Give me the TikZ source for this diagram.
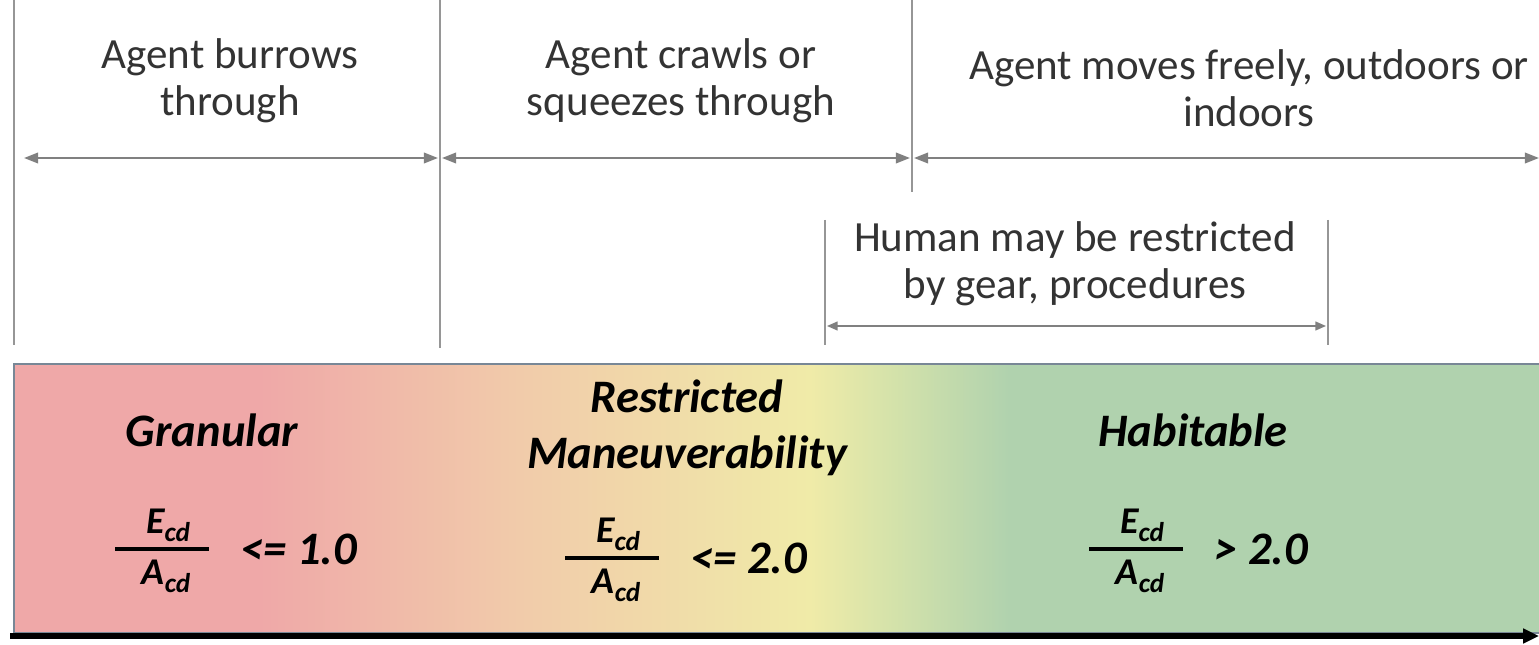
\documentclass[tikz,border=0pt]{standalone}
\usepackage{fontspec}
\setmainfont{Carlito}
\usetikzlibrary{arrows.meta,positioning}

\definecolor{granred}{RGB}{239,168,168}
\definecolor{peach}{RGB}{241,203,170}
\definecolor{paleyellow}{RGB}{240,235,168}
\definecolor{limegreen}{RGB}{214,227,170}
\definecolor{habgreen}{RGB}{176,210,174}
\definecolor{linegray}{RGB}{128,128,128}
\definecolor{rulegray}{RGB}{150,150,150}
\definecolor{barframe}{RGB}{120,135,150}

\pgfdeclarehorizontalshading{zones}{100bp}{%
  color(0bp)=(granred); color(33bp)=(granred); color(41.5bp)=(peach);
  color(51bp)=(paleyellow); color(53.5bp)=(limegreen); color(57.5bp)=(habgreen);
  color(100bp)=(habgreen)}

% subscript of the ratio terms
\newcommand{\cdsub}{\raisebox{-4.5pt}{\fontsize{15.5}{15.5}\selectfont cd}}

\begin{document}
\begin{tikzpicture}[
  x=0.02cm, y=-0.02cm,
  span/.style={{Triangle[length=8pt,width=6pt]}-{Triangle[length=8pt,width=6pt]},
    line width=1.1pt, draw=linegray},
  subspan/.style={{Triangle[length=6pt,width=5pt]}-{Triangle[length=6pt,width=5pt]},
    line width=0.9pt, draw=linegray},
  divider/.style={line width=0.9pt, draw=rulegray},
  caption/.style={align=center, text=black!80,
    font=\fontsize{24.5}{27}\selectfont},
  zone/.style={align=center, font=\fontsize{26.5}{32}\selectfont\bfseries\itshape},
  ratio/.style={inner sep=0pt, font=\fontsize{21.5}{26}\selectfont\bfseries\itshape},
  bound/.style={anchor=west, inner sep=0pt, font=\fontsize{26.5}{30}\selectfont\bfseries\itshape},
  fracbar/.style={line width=2.4pt},
  scale arrow/.style={-{Triangle[length=9pt,width=8pt]}, line width=3.6pt}
]
\useasboundingbox (0,0) rectangle (1539,645);

% Colour bar of the three regimes.
\shade[shading=zones, draw=barframe, line width=0.6pt] (14,364) rectangle (1545,633);

% Vertical limits of the ranges.
\coordinate (top0) at (14,0);     \coordinate (bot0) at (14,345);
\coordinate (top1) at (440,0);    \coordinate (bot1) at (440,348);
\coordinate (top2) at (912,0);    \coordinate (bot2) at (912,192);
\coordinate (top3) at (825,220);  \coordinate (bot3) at (825,345);
\coordinate (top4) at (1328,220); \coordinate (bot4) at (1328,345);
\foreach \i in {0,...,4}
  \draw[divider] (top\i) -- (bot\i);

% Agent ranges.
\coordinate (a0) at (24,158);
\coordinate (a1) at (438,158);
\coordinate (a2) at (442,158);
\coordinate (a3) at (910,158);
\coordinate (a4) at (914,158);
\coordinate (a5) at (1539,158);
\draw[span] (a0) -- (a1);
\draw[span] (a2) -- (a3);
\draw[span] (a4) -- (a5);

\node[caption] (burrow) at (230,81) {Agent burrows\\through};
\node[caption] (crawl) at (681,81) {Agent crawls or\\squeezes through};
\node[caption] (free) at (1249,88) {Agent moves freely, outdoors or\\indoors};

% Human restriction.
\coordinate (h0) at (827,326);
\coordinate (h1) at (1326,326);
\draw[subspan] (h0) -- (h1);
\node[caption] (human) at (1075,264) {Human may be restricted\\by gear, procedures};

% Regime names.
\node[zone] (granular) at (212,430) {Granular};
\node[zone] (restricted) at (687,428) {Restricted\\Maneuverability};
\node[zone] (habitable) at (1193,430) {Habitable};

% Ratio thresholds.
\foreach \x/\y/\op/\name in {162/549/{<= 1.0}/gran, 612/558/{<= 2.0}/restr, 1136/549/{> 2.0}/hab} {
  \node[ratio] (num-\name) at (\x+6,\y-24) {E\cdsub};
  \node[ratio] (den-\name) at (\x+4,\y+27) {A\cdsub};
  \draw[fracbar] (\x-47,\y) -- (\x+47,\y);
  \node[bound] (op-\name) at (\x+78,\y) {\op};
}

% Scale axis.
\coordinate (s0) at (10,636);
\coordinate (s1) at (1539,636);
\draw[scale arrow] (s0) -- (s1);

\end{tikzpicture}
\end{document}
